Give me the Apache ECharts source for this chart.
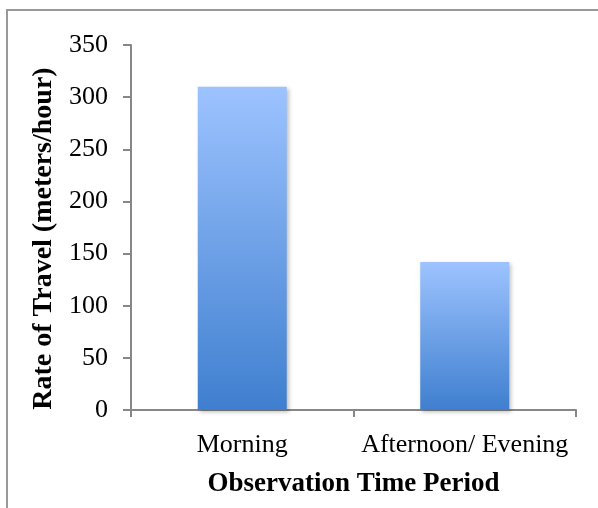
<!DOCTYPE html>
<html>
<head>
<meta charset="utf-8">
<script src="https://cdn.jsdelivr.net/npm/echarts@6/dist/echarts.min.js"></script>
<style>html,body{margin:0;padding:0;background:#fff}#c{width:598px;height:508px}</style>
</head>
<body>
<div id="c"></div>
<script>
var categories = ['Morning', 'Afternoon/ Evening'];
var rateValues = [310, 142];
var yTickMax = 350;
var yTickStep = 50;
var xTitle = 'Observation Time Period';
var yTitle = 'Rate of Travel (meters/hour)';

var chart = echarts.init(document.getElementById('c'), null, {renderer: 'canvas'});
var font = '"Liberation Serif", "Times New Roman", serif';
var axisGray = '#878787';
chart.setOption({
  animation: false,
  backgroundColor: '#fff',
  grid: {left: 131, right: 22, top: 45, bottom: 98},
  graphic: [{
    type: 'rect', silent: true, z: -1,
    shape: {x: 7, y: 10, width: 620, height: 520},
    style: {fill: 'none', stroke: '#999', lineWidth: 2}
  }],
  xAxis: {
    type: 'category',
    data: categories,
    boundaryGap: true,
    axisLine: {lineStyle: {color: axisGray, width: 2}},
    axisTick: {show: true, length: 7, interval: 0, lineStyle: {color: axisGray, width: 2}},
    axisLabel: {color: '#000', fontFamily: font, fontSize: 26, margin: 22, interval: 0},
    name: xTitle,
    nameLocation: 'middle',
    nameGap: 61,
    nameTextStyle: {color: '#000', fontFamily: font, fontSize: 27, fontWeight: 'bold'}
  },
  yAxis: {
    type: 'value',
    min: 0, max: yTickMax, interval: yTickStep,
    splitLine: {show: false},
    axisLine: {show: true, lineStyle: {color: axisGray, width: 2}},
    axisTick: {show: true, length: 8, lineStyle: {color: axisGray, width: 2}},
    axisLabel: {color: '#000', fontFamily: font, fontSize: 26, margin: 23},
    name: yTitle,
    nameLocation: 'middle',
    nameGap: 67,
    nameRotate: 90,
    nameTextStyle: {color: '#000', fontFamily: font, fontSize: 28, fontWeight: 'bold', padding: [0, 22, 0, 0]}
  },
  series: [{
    type: 'bar',
    data: rateValues,
    barWidth: '40%',
    itemStyle: {
      color: new echarts.graphic.LinearGradient(0, 0, 0, 1, [
        {offset: 0, color: '#9DC3FF'},
        {offset: 1, color: '#3F7FCF'}
      ]),
      shadowColor: 'rgba(0,0,0,0.25)',
      shadowBlur: 4,
      shadowOffsetX: 2,
      shadowOffsetY: 2
    }
  }]
});
</script>
</body>
</html>
